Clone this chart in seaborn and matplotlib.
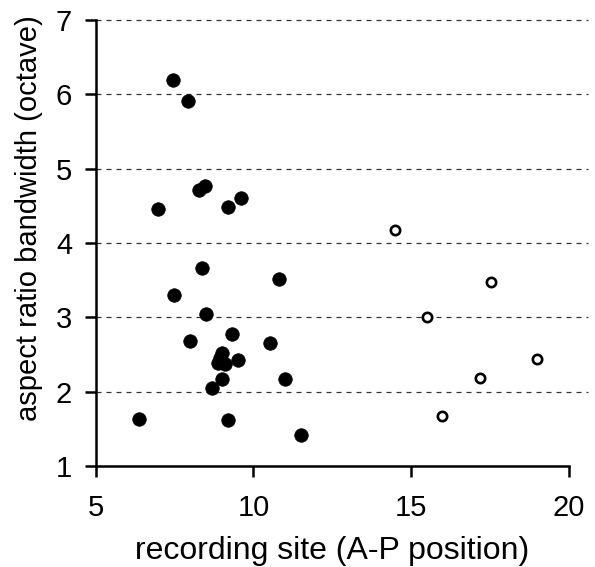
import matplotlib
matplotlib.use("Agg")
import matplotlib.pyplot as plt
import seaborn as sns
import pandas as pd

# filled points (one group) and open points (second group)
filled_x = [7.44, 7.92, 6.97, 8.27, 8.46, 9.19, 9.6, 8.37, 10.81, 7.48, 8.49, 9.32,
            7.98, 10.52, 9.0, 8.87, 9.1, 8.95, 9.5, 9.0, 11.0, 8.68, 6.37, 9.2, 11.5]
filled_y = [6.19, 5.91, 4.46, 4.71, 4.76, 4.49, 4.6, 3.67, 3.51, 3.30, 3.05, 2.78,
            2.68, 2.66, 2.52, 2.39, 2.37, 2.45, 2.43, 2.17, 2.17, 2.05, 1.63, 1.62, 1.42]
open_x = [14.49, 17.54, 15.5, 19.0, 17.19, 15.98]
open_y = [4.17, 3.47, 3.0, 2.44, 2.19, 1.67]

df_f = pd.DataFrame({'site': filled_x, 'bw': filled_y})
df_o = pd.DataFrame({'site': open_x, 'bw': open_y})

sns.set_style("white")
plt.rcParams['font.family'] = ['Liberation Sans', 'DejaVu Sans']
plt.rcParams['text.color'] = 'black'
plt.rcParams['axes.labelcolor'] = 'black'
plt.rcParams['xtick.color'] = 'black'
plt.rcParams['ytick.color'] = 'black'

fig = plt.figure(figsize=(5.95, 5.67), dpi=100)
ax = fig.add_axes([0.161, 0.178, 0.795, 0.787])

for yv in [2, 3, 4, 5, 6, 7]:
    ax.axhline(yv, xmax=1.04, color='#333333', linestyle=(0, (4, 4)), linewidth=0.9,
               zorder=0, clip_on=False)

sns.scatterplot(data=df_f, x='site', y='bw', ax=ax, color='black', s=95,
                edgecolor='black', linewidth=0.5, zorder=3)
sns.scatterplot(data=df_o, x='site', y='bw', ax=ax, facecolor='white', s=45,
                edgecolor='black', linewidth=1.9, zorder=3)

ax.set_xlim(5, 20)
ax.set_ylim(1, 7)
ax.set_xticks([5, 10, 15, 20])
ax.set_yticks([1, 2, 3, 4, 5, 6, 7])
ax.tick_params(axis='both', labelsize=21, direction='out', length=8, width=1.8,
               colors='black')
ax.tick_params(axis='x', bottom=True, pad=12)
ax.tick_params(axis='y', left=True, pad=9)

for side in ['top', 'right']:
    ax.spines[side].set_visible(False)
for side in ['left', 'bottom']:
    ax.spines[side].set_color('black')
    ax.spines[side].set_linewidth(1.8)

ax.set_xlabel('recording site (A-P position)', fontsize=23, labelpad=10)
ax.set_ylabel('aspect ratio bandwidth (octave)', fontsize=21)
ax.yaxis.set_label_coords(-0.112, 0.556)

fig.savefig('out.png', dpi=100)
